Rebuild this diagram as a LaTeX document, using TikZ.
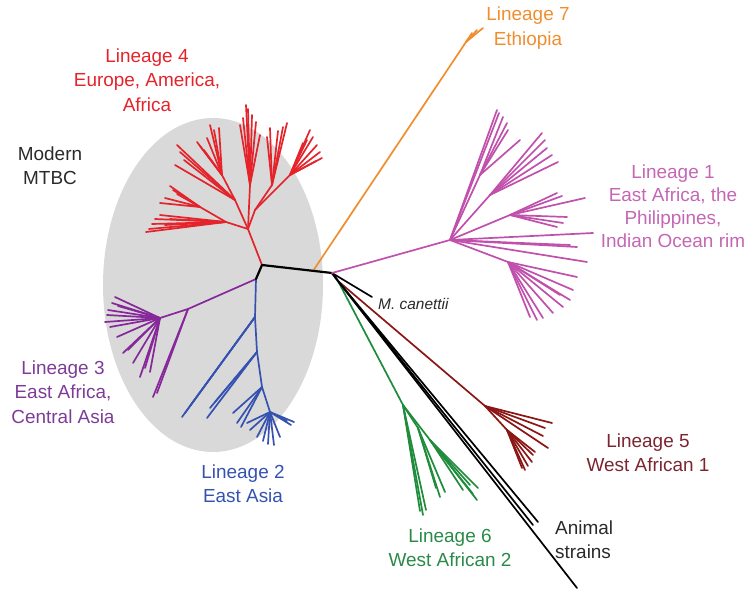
\documentclass[tikz,border=0pt]{standalone}
\usepackage{fontspec}
\setmainfont{Liberation Sans}
\definecolor{cRed}{HTML}{E5232B}
\definecolor{cOrange}{HTML}{F08E2E}
\definecolor{cPink}{HTML}{C050AC}
\definecolor{cPinkT}{HTML}{C466B4}
\definecolor{cPurple}{HTML}{86289A}
\definecolor{cPurpleT}{HTML}{7D3C98}
\definecolor{cBlue}{HTML}{3552B0}
\definecolor{cBrown}{HTML}{8B1616}
\definecolor{cBrownT}{HTML}{7A2530}
\definecolor{cGreen}{HTML}{1F8C3C}
\definecolor{cGreenT}{HTML}{2A8A48}
\definecolor{cEll}{HTML}{D9D9D9}
\definecolor{cBlk}{HTML}{2A2A2A}
\begin{document}
\begin{tikzpicture}[x=1bp,y=-1bp,
  br/.style={line width=1.7bp, line cap=round, line join=round},
  bb/.style={br, line width=2.2bp, black},
  lbl/.style={align=center, inner sep=0pt, font=\fontsize{19}{24.5}\selectfont}]
\useasboundingbox (0,0) rectangle (750,592);
\fill[cEll] (213,285) ellipse [x radius=110bp, y radius=167bp];

% backbone
\coordinate (A) at (262,265);
\coordinate (J) at (256,279);
\coordinate (B) at (332,273);
\coordinate (O) at (313,271);
\coordinate (C) at (338,281);

% Lineage 7 (orange)
\coordinate (O1) at (466,42);
\draw[br, cOrange] (O) -- (O1);
\foreach \p in {(472,33),(477,30),(483,28),(470,37)} \draw[br, cOrange] (O1) -- \p;

% Lineage 4 (red)
\coordinate (R0) at (248,229);
\coordinate (Ra) at (226,222);
\coordinate (Rb) at (200,207);
\coordinate (Rc) at (235,200);
\coordinate (Rd) at (222,175);
\coordinate (Re) at (250,185);
\coordinate (Rg) at (255,210);
\coordinate (Rh) at (272,185);
\coordinate (Ri) at (290,175);
\draw[br, cRed] (A) -- (R0) -- (Ra) -- (Rb);
\draw[br, cRed] (R0) -- (Rc) -- (Rd);
\draw[br, cRed] (R0) -- (Re);
\draw[br, cRed] (R0) -- (Rg) -- (Rh);
\draw[br, cRed] (Rg) -- (Ri);
\foreach \p in {(146,232),(149,229),(152,224),(155,219),(160,215),(170,219),(165,225)} \draw[br, cRed] (Ra) -- \p;
\foreach \p in {(170,186),(173,190),(177,194),(160,203),(165,198)} \draw[br, cRed] (Rb) -- \p;
\foreach \p in {(177,145),(175,165),(180,152),(184,160)} \draw[br, cRed] (Rc) -- \p;
\foreach \p in {(197,142),(200,146),(204,150),(210,125),(214,130),(219,128),(207,138)} \draw[br, cRed] (Rd) -- \p;
\foreach \p in {(246,105),(248,109),(252,115),(256,122),(260,135),(240,125),(243,118)} \draw[br, cRed] (Re) -- \p;
\foreach \p in {(287,123),(283,127),(270,128),(267,137),(278,131)} \draw[br, cRed] (Rh) -- \p;
\foreach \p in {(310,130),(313,137),(317,145),(320,152),(322,158),(316,161),(303,143),(307,140)} \draw[br, cRed] (Ri) -- \p;

% Lineage 3 (purple)
\coordinate (P0) at (188,309);
\coordinate (P1) at (160,318);
\draw[br, cPurple] (J) -- (P0) -- (P1);
\foreach \p in {(153,397),(157,393)} \draw[br, cPurple] (P0) -- \p;
\foreach \p in {(105,322),(107,315),(112,303),(115,297),(118,306),(110,327),(117,337),(123,353),(128,350),(133,363),(140,377),(145,368),(150,372),(108,310)} \draw[br, cPurple] (P1) -- \p;

% Lineage 2 (blue)
\coordinate (L1b) at (255,317);
\coordinate (L2b) at (257,352);
\coordinate (L3b) at (262,387);
\coordinate (L4b) at (270,412);
\draw[br, cBlue] (J) -- (L1b) -- (L2b) -- (L3b) -- (L4b);
\foreach \p in {(182,417),(185,413),(190,406)} \draw[br, cBlue] (L1b) -- \p;
\foreach \p in {(207,418),(210,408),(215,402)} \draw[br, cBlue] (L2b) -- \p;
\foreach \p in {(233,413),(237,423),(241,427)} \draw[br, cBlue] (L3b) -- \p;
\foreach \p in {(247,423),(250,430),(257,437),(263,441),(268,444),(274,445),(280,437),(287,421),(291,425),(294,422)} \draw[br, cBlue] (L4b) -- \p;

% backbone drawn over
\draw[bb] (J) -- (A) -- (B) -- (C);
\draw[br, black] (B) -- (372,297);

% Lineage 1 (pink)
\coordinate (H1) at (450,240);
\coordinate (Pa) at (480,175);
\coordinate (Pb) at (490,195);
\coordinate (Pc) at (510,215);
\coordinate (Pd) at (508,262);
\draw[br, cPink] (B) -- (H1);
\draw[br, cPink] (H1) -- (Pa);
\draw[br, cPink] (H1) -- (Pb);
\draw[br, cPink] (H1) -- (Pc);
\draw[br, cPink] (H1) -- (Pd);
\foreach \p in {(497,110),(499,113)} \draw[br, cPink] (H1) -- \p;
\foreach \p in {(503,117),(507,123),(508,130),(520,140)} \draw[br, cPink] (Pa) -- \p;
\foreach \p in {(542,133),(545,140),(547,148),(552,155),(558,162)} \draw[br, cPink] (Pb) -- \p;
\foreach \p in {(557,193),(562,196),(585,198),(567,217),(563,223),(557,227)} \draw[br, cPink] (Pc) -- \p;
\foreach \p in {(593,233),(587,262),(577,247),(570,245)} \draw[br, cPink] (H1) -- \p;
\foreach \p in {(577,277),(573,290),(570,300),(563,307),(553,313),(543,318),(537,320),(530,317),(560,295)} \draw[br, cPink] (Pd) -- \p;

% Lineage 5 (brown)
\coordinate (H5) at (485,406);
\coordinate (H5b) at (507,430);
\draw[br, cBrown] (C) -- (H5) -- (H5b);
\foreach \p in {(552,423),(545,428),(543,436),(548,448)} \draw[br, cBrown] (H5) -- \p;
\foreach \p in {(533,455),(532,462),(528,466),(525,470),(522,468),(535,452)} \draw[br, cBrown] (H5b) -- \p;

% Lineage 6 (green)
\coordinate (G0) at (403,405);
\coordinate (G1) at (418,428);
\coordinate (G2) at (430,440);
\draw[br, cGreen] (C) -- (G0) -- (G1);
\draw[br, cGreen] (G0) -- (G2);
\foreach \p in {(423,515),(420,511),(426,510)} \draw[br, cGreen] (G0) -- \p;
\foreach \p in {(440,497),(445,492),(436,488)} \draw[br, cGreen] (G1) -- \p;
\foreach \p in {(463,490),(473,494),(477,500),(478,488),(470,485)} \draw[br, cGreen] (G2) -- \p;

% animal strains (black)
\coordinate (An1) at (533,525);
\coordinate (An2) at (538,522);
\coordinate (An3) at (577,588);
\draw[br, black] (C) -- (An1);
\draw[br, black] (C) -- (An2);
\draw[br, black] (C) -- (An3);

% labels
\node[lbl, text=cRed] (l4) at (147,80) {Lineage 4\\Europe, America,\\Africa};
\node[lbl, text=cBlk] (mod) at (50,166) {Modern\\MTBC};
\node[lbl, text=cOrange] (l7) at (528,28) {Lineage 7\\Ethiopia};
\node[lbl, text=cPinkT, font=\fontsize{19}{23}\selectfont] (l1) at (673,206) {Lineage 1\\East Africa, the\\Philippines,\\Indian Ocean rim};
\node[anchor=west, inner sep=0pt, text=cBlk, font=\fontsize{15.5}{18}\selectfont\itshape] (mc) at (378,304) {M. canettii};
\node[lbl, text=cPurpleT] (l3) at (63,392) {Lineage 3\\East Africa,\\Central Asia};
\node[lbl, text=cBlue] (l2) at (243,484) {Lineage 2\\East Asia};
\node[lbl, text=cBrownT] (l5) at (648,453) {Lineage 5\\West African 1};
\node[lbl, align=left, anchor=west, text=cBlk] (an) at (555,540) {Animal\\strains};
\node[lbl, text=cGreenT] (l6) at (450,548) {Lineage 6\\West African 2};
\end{tikzpicture}
\end{document}
